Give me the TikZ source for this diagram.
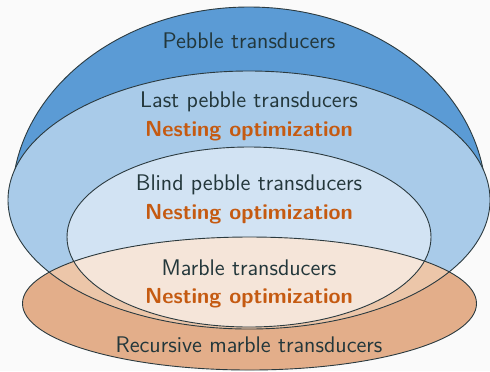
\documentclass[tikz,border=0pt]{standalone}
\usepackage{fontspec}
\definecolor{bgc}{HTML}{FAFAFA}
\definecolor{pebble}{HTML}{5B9BD5}
\definecolor{lastpeb}{HTML}{A9CBE9}
\definecolor{blindpeb}{HTML}{D2E3F3}
\definecolor{recmarble}{HTML}{E3AE8A}
\definecolor{lastrec}{HTML}{ECC6A9}
\definecolor{marble}{HTML}{F5E5D9}
\definecolor{edge}{HTML}{2B3A3F}
\definecolor{txt}{HTML}{23373B}
\definecolor{alert}{HTML}{C55A11}
\begin{document}
\begin{tikzpicture}[x=0.5pt, y=-0.5pt,
  outline/.style={draw=edge, line width=0.45pt},
  lbl/.style={anchor=base, inner sep=0pt, text=txt, font=\sffamily\fontsize{11.3}{13}\selectfont},
  opt/.style={anchor=base, inner sep=0pt, text=alert, font=\sffamily\fontsize{10.9}{13}\selectfont\bfseries}]
  % canvas
  \fill[bgc] (0,0) rectangle (490,371);
  \useasboundingbox (0,0) rectangle (490,371);

  % Pebble transducers: only the upper cap shows
  \begin{scope}
    \clip (0,0) rectangle (490,200);
    \fill[pebble] (249,200) ellipse [x radius=118.5pt, y radius=96.5pt];
    \draw[outline] (249,200) ellipse [x radius=118.5pt, y radius=96.5pt];
  \end{scope}

  % Last pebble transducers
  \fill[lastpeb] (249,200) ellipse [x radius=120.5pt, y radius=64.5pt];
  % Blind pebble transducers
  \fill[blindpeb] (249,237) ellipse [x radius=91pt, y radius=45pt];
  % Recursive marble transducers
  \fill[recmarble] (249.5,303.5) ellipse [x radius=113.5pt, y radius=33.25pt];
  \begin{scope}
    \clip (249.5,303.5) ellipse [x radius=113.5pt, y radius=33.25pt];
    \fill[lastrec] (249,200) ellipse [x radius=120.5pt, y radius=64.5pt];
    \fill[marble] (249,237) ellipse [x radius=91pt, y radius=45pt];
  \end{scope}

  % outlines on top
  \draw[outline] (249,200) ellipse [x radius=120.5pt, y radius=64.5pt];
  \draw[outline] (249,237) ellipse [x radius=91pt, y radius=45pt];
  \draw[outline] (249.5,303.5) ellipse [x radius=113.5pt, y radius=33.25pt];

  % labels
  \node[lbl] (pebbleT) at (249,48) {Pebble transducers};
  \node[lbl] (lastT) at (249,107.5) {Last pebble transducers};
  \node[opt] (optA) at (249,136.5) {Nesting optimization};
  \node[lbl] (blindT) at (249,190) {Blind pebble transducers};
  \node[opt] (optB) at (249,219) {Nesting optimization};
  \node[lbl] (marbleT) at (249,275) {Marble transducers};
  \node[opt] (optC) at (249,303) {Nesting optimization};
  \node[lbl] (recT) at (249,352) {Recursive marble transducers};
\end{tikzpicture}
\end{document}
